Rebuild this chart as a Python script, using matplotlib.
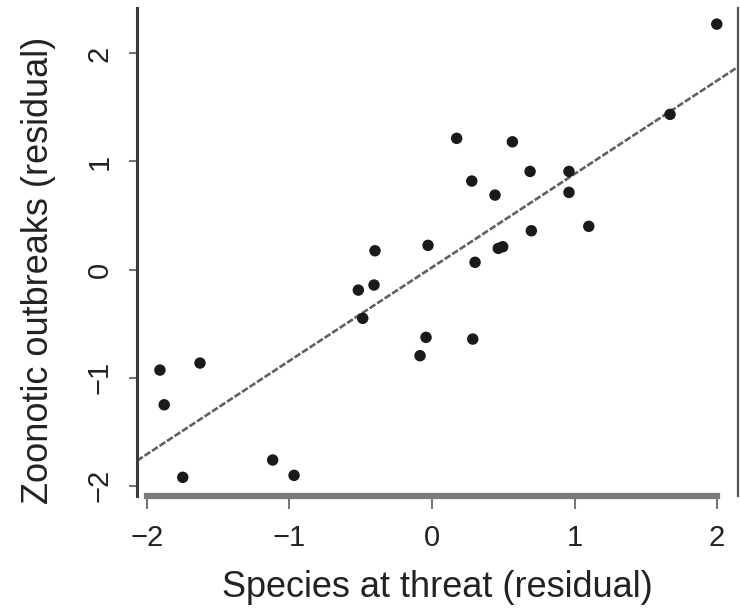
import numpy as np
import matplotlib
matplotlib.use("Agg")
import matplotlib.pyplot as plt

plt.rcParams['font.family'] = ['Liberation Sans', 'DejaVu Sans']

# residuals
x_resid = [1.998, 1.670, 0.173, 0.564, 0.688, 0.961, 0.279, 0.442, 0.961, 1.100,
           0.697, -0.028, 0.465, 0.496, 0.302, -0.400, -0.407, -0.517, -0.486, -1.909,
           -1.628, -1.879, -1.749, -1.118, -0.968, -0.042, -0.084, 0.286]
y_resid = [2.271, 1.436, 1.214, 1.182, 0.908, 0.908, 0.819, 0.689, 0.714, 0.400,
           0.359, 0.224, 0.196, 0.211, 0.067, 0.174, -0.143, -0.190, -0.451, -0.930,
           -0.865, -1.251, -1.922, -1.762, -1.904, -0.627, -0.797, -0.643]

# fitted line
fit_slope = 0.864
fit_intercept = 0.02

xticks = [-2, -1, 0, 1, 2]
yticks = [-2, -1, 0, 1, 2]

fig = plt.figure(figsize=(7.4, 6.08), dpi=100)
ax = fig.add_axes([137/740, 1-496/608, 601/740, 488/608])

ax.scatter(x_resid, y_resid, s=68, color='#1a1a1a', edgecolors='none', zorder=3)
ax.axline((0, fit_intercept), slope=fit_slope, color='#606060', lw=1.9,
          dashes=(2.6, 0.8), zorder=2)

ax.set_xlim(-2.07, 2.147)
ax.set_ylim(-2.095, 2.42)
ax.set_xticks(xticks)
ax.set_yticks(yticks)

ax.spines['top'].set_visible(False)
ax.spines['left'].set_color('#3a3a3a')
ax.spines['left'].set_linewidth(2.2)
ax.spines['right'].set_color('#555555')
ax.spines['right'].set_linewidth(1.6)
ax.spines['bottom'].set_bounds(-2, 2)
ax.spines['bottom'].set_color('#7a7a7a')
ax.spines['bottom'].set_linewidth(4.5)

ax.tick_params(axis='x', length=9, width=1.5, color='#777777', labelsize=21,
               labelcolor='#222222', pad=11)
ax.tick_params(axis='y', length=6, width=1.5, color='#777777', labelsize=21,
               labelcolor='#222222', labelrotation=90, pad=11)
for lab in ax.get_yticklabels():
    lab.set_va('center')

ax.set_xlabel('Species at threat (residual)', fontsize=26, color='#222222')
ax.set_ylabel('Zoonotic outbreaks (residual)', fontsize=26, color='#222222')
ax.xaxis.label.set_va('center')
ax.yaxis.label.set_va('center')
ax.xaxis.set_label_coords(0.5, -0.1865)
ax.yaxis.set_label_coords(-0.1647, 0.463)

fig.savefig('out.png', dpi=100)
